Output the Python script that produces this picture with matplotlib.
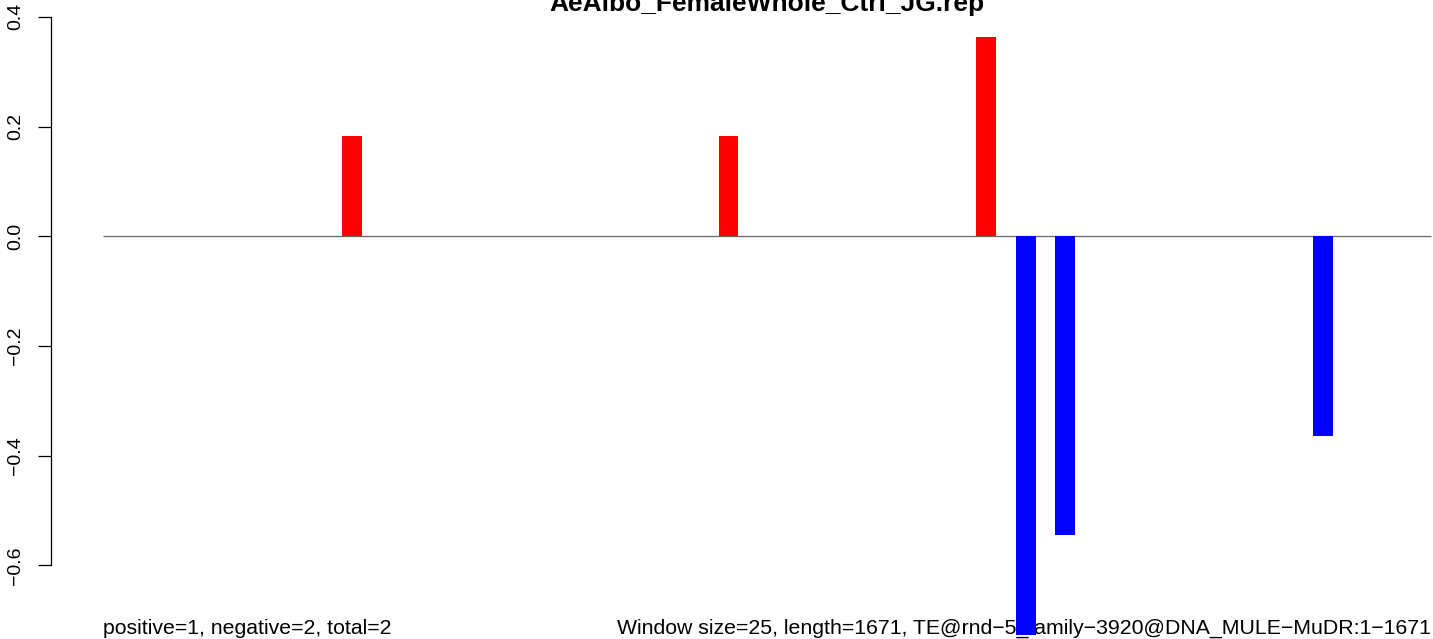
import matplotlib
matplotlib.use("Agg")
import matplotlib.pyplot as plt
import matplotlib.transforms as mtransforms

plt.rcParams['font.family'] = ['Liberation Sans', 'DejaVu Sans']

# ---- data ----
title = "AeAlbo_FemaleWhole_Ctrl_JG.rep"
window_size = 25
length = 1671
window_starts = [300, 775, 1100, 1150, 1200, 1525]
values = [0.182, 0.182, 0.364, -0.727, -0.545, -0.364]
yticks = [-0.6, -0.4, -0.2, 0.0, 0.2, 0.4]
ytick_labels = ["\u22120.6", "\u22120.4", "\u22120.2", "0.0", "0.2", "0.4"]
left_note = "positive=1, negative=2, total=2"
right_note = ("Window size=25, length=1671, "
              "TE@rnd\u22125_family\u22123920@DNA_MULE\u2212MuDR:1\u22121671")

# ---- layout ----
W, H, DPI = 1433, 639, 100
fig = plt.figure(figsize=(W / DPI, H / DPI), dpi=DPI)
ax = fig.add_axes([0, 0, 1, 1])
ax.set_xlim(-131.5, 1676.3)
ax.set_ylim(-0.7341, 0.4307)
region_x0, region_x1 = -1.5, 1673.5

colors = ['#FF0000' if v > 0 else '#0000FF' for v in values]
ax.bar(window_starts, values, width=window_size - 0.1, align='edge',
       color=colors, linewidth=0, zorder=3)
ax.hlines(0, region_x0, region_x1, colors='#666666', linewidth=0.9, zorder=2)

for s in ['top', 'right', 'bottom']:
    ax.spines[s].set_visible(False)
ax.spines['left'].set_position(('data', -67.5))
ax.spines['left'].set_bounds(-0.6, 0.4)
ax.spines['left'].set_linewidth(0.9)
ax.set_xticks([])
ax.set_yticks(yticks)
ax.set_yticklabels(ytick_labels)
ax.tick_params(axis='y', direction='out', length=9.4, width=0.9, pad=9.5,
               labelsize=14, labelrotation=90)
for lab in ax.get_yticklabels():
    lab.set_va('center')

trans = mtransforms.blended_transform_factory(ax.transData, ax.transAxes)
ax.text((region_x0 + region_x1) / 2, 1 - 11 / H, title, transform=trans,
        ha='center', va='baseline', fontsize=19, fontweight='bold',
        clip_on=False, zorder=1)
ax.text(region_x0, (H - 634) / H, left_note, transform=trans,
        ha='left', va='baseline', fontsize=15.3, zorder=1)
ax.text(region_x1, (H - 634) / H, right_note, transform=trans,
        ha='right', va='baseline', fontsize=15.3, zorder=1)

fig.savefig("out.png", dpi=DPI)
